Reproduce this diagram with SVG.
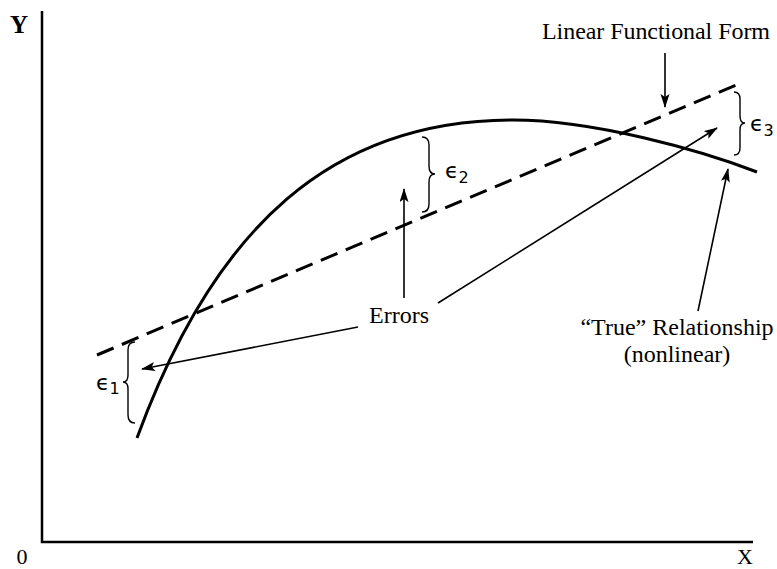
<svg xmlns="http://www.w3.org/2000/svg" width="777" height="569" viewBox="0 0 777 569">
<style>
.lbl{font-family:"Liberation Serif","Times New Roman",serif;font-size:24px;fill:#000}
.eps{font-family:"DejaVu Sans",sans-serif;font-size:22px;fill:#000}
.sub{font-size:16px}
.axis{stroke:#000;stroke-width:2.5;fill:none}
.arrow{stroke:#000;stroke-width:1.6;fill:none;marker-end:url(#ah)}
.brace{stroke:#000;stroke-width:1.4;fill:none}
</style>
<defs>
<marker id="ah" markerUnits="userSpaceOnUse" markerWidth="14" markerHeight="10" refX="13" refY="4.5" orient="auto">
<path d="M0,0 L14,4.5 L0,9 L3,4.5 Z" fill="#000"/>
</marker>
</defs>
<rect width="777" height="569" fill="#fff"/>
<g id="axes">
<path class="axis" d="M42,11 L42,542 L753,542"/>
<text class="lbl" x="19" y="33" text-anchor="middle" font-weight="bold" style="font-size:25px">Y</text>
<text class="lbl" x="22" y="564" text-anchor="middle" style="font-size:22px">0</text>
<text class="lbl" x="745" y="564" text-anchor="middle" style="font-size:22px">X</text>
</g>
<g id="linear">
<path d="M97,355 L741,83" stroke="#000" stroke-width="3" stroke-dasharray="18 9" fill="none"/>
</g>
<g id="true-curve">
<path d="M137,438 C215,225 333,120 513,120 C593,120 700,150 757,172" stroke="#000" stroke-width="3" fill="none"/>
</g>
<g id="eps1">
<path class="brace" d="M135,342 Q128,342 128,350 L128,375 Q128,382 123,382 Q128,382 128,389 L128,415 Q128,423 135,423"/>
<text class="eps" x="96" y="390">ϵ<tspan class="sub" dy="4">1</tspan></text>
</g>
<g id="eps2">
<path class="brace" d="M422,137 Q429,137 429,145 L429,166 Q429,174 435,174 Q429,174 429,182 L429,204 Q429,212 422,212"/>
<text class="eps" x="445" y="178">ϵ<tspan class="sub" dy="5">2</tspan></text>
</g>
<g id="eps3">
<path class="brace" d="M734,92 Q740,92 740,99 L740,116 Q740,123 745,123 Q740,123 740,130 L740,148 Q740,155 734,155"/>
<text class="eps" x="750" y="131">ϵ<tspan class="sub" dy="5">3</tspan></text>
</g>
<g id="label-linear">
<text class="lbl" x="542" y="39" textLength="228">Linear Functional Form</text>
</g>
<g id="label-errors">
<text class="lbl" x="399" y="323" text-anchor="middle">Errors</text>
</g>
<g id="label-true">
<text class="lbl" x="677" y="335" text-anchor="middle">“True” Relationship</text>
<text class="lbl" x="677" y="362" text-anchor="middle">(nonlinear)</text>
</g>
<g id="connectors">
<line class="arrow" x1="665" y1="53" x2="665" y2="107"/>
<line class="arrow" x1="404" y1="298" x2="404" y2="189"/>
<line class="arrow" x1="358" y1="327" x2="142" y2="369"/>
<line class="arrow" x1="438" y1="303" x2="717" y2="128"/>
<line class="arrow" x1="698" y1="311" x2="728" y2="169"/>
</g>
</svg>
